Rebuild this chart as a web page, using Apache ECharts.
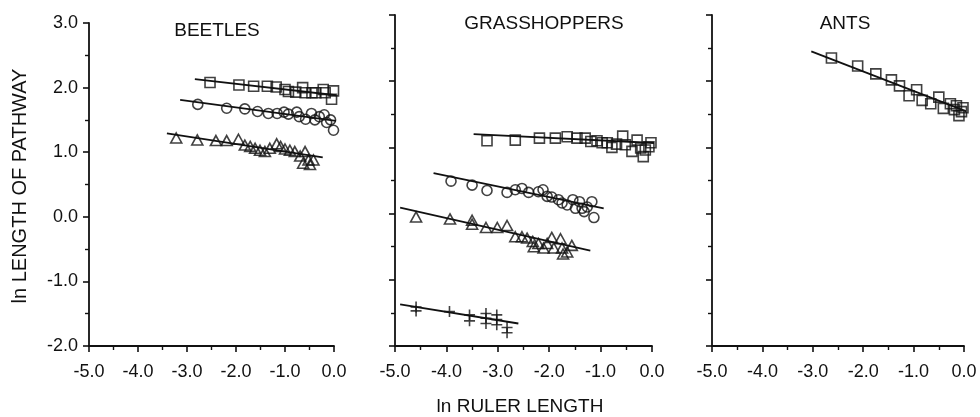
<!DOCTYPE html>
<html>
<head>
<meta charset="utf-8">
<script src="https://cdn.jsdelivr.net/npm/echarts@6/dist/echarts.min.js"></script>
<style>html,body{margin:0;padding:0;background:#fff}#c{width:980px;height:417px}</style>
</head>
<body>
<div id="c"></div>
<script>
// ---------- data ----------
const xTicks = [-5, -4, -3, -2, -1, 0];
const yTicks = [-2, -1, 0, 1, 2, 3];
const panelTitles = ['BEETLES', 'GRASSHOPPERS', 'ANTS'];

const beetleSq = [[-2.53,2.08],[-1.94,2.04],[-1.64,2.02],[-1.36,2.02],[-1.18,2.01],[-1.00,1.97],[-0.93,1.94],[-0.78,1.93],[-0.64,2.00],[-0.59,1.92],[-0.45,1.92],[-0.37,1.92],[-0.22,1.97],[-0.18,1.92],[-0.05,1.82],[-0.01,1.95]];
const beetleCi = [[-2.78,1.74],[-2.19,1.68],[-1.82,1.67],[-1.56,1.63],[-1.34,1.60],[-1.16,1.60],[-1.02,1.62],[-0.93,1.59],[-0.76,1.62],[-0.71,1.55],[-0.58,1.51],[-0.46,1.60],[-0.39,1.50],[-0.30,1.55],[-0.20,1.58],[-0.15,1.46],[-0.07,1.50],[-0.01,1.34]];
const beetleTri = [[-3.22,1.22],[-2.79,1.19],[-2.41,1.18],[-2.19,1.18],[-1.95,1.20],[-1.82,1.11],[-1.71,1.09],[-1.61,1.06],[-1.51,1.03],[-1.41,1.01],[-1.31,1.06],[-1.17,1.13],[-1.09,1.09],[-1.00,1.05],[-0.90,1.03],[-0.80,1.01],[-0.69,0.94],[-0.59,1.01],[-0.52,0.88],[-0.42,0.88],[-0.63,0.83],[-0.49,0.81]];
const beetleSqFit = [[-2.84,2.13],[0.18,1.87]];
const beetleCiFit = [[-3.14,1.81],[0.19,1.47]];
const beetleTriFit = [[-3.41,1.29],[-0.23,0.92]];

const grassSq = [[-3.21,1.10],[-2.66,1.11],[-2.19,1.14],[-1.88,1.14],[-1.65,1.16],[-1.46,1.14],[-1.30,1.14],[-1.19,1.09],[-1.07,1.10],[-0.97,1.07],[-0.87,1.07],[-0.78,1.00],[-0.69,1.05],[-0.57,1.17],[-0.52,1.04],[-0.39,0.94],[-0.29,1.11],[-0.22,0.99],[-0.17,0.86],[-0.13,0.96],[-0.06,1.01],[-0.02,1.07]];
const grassCi = [[-3.91,0.49],[-3.50,0.43],[-3.21,0.35],[-2.82,0.32],[-2.66,0.36],[-2.53,0.38],[-2.40,0.32],[-2.21,0.33],[-2.12,0.36],[-2.04,0.26],[-1.95,0.25],[-1.82,0.21],[-1.75,0.16],[-1.65,0.13],[-1.54,0.21],[-1.49,0.08],[-1.41,0.18],[-1.36,0.08],[-1.32,0.03],[-1.26,0.10],[-1.17,0.18],[-1.13,-0.06]];
const grassTri = [[-4.59,-0.05],[-3.93,-0.08],[-3.50,-0.10],[-3.50,-0.16],[-3.23,-0.21],[-3.01,-0.21],[-2.82,-0.18],[-2.66,-0.35],[-2.53,-0.35],[-2.43,-0.37],[-2.32,-0.42],[-2.30,-0.50],[-2.21,-0.45],[-2.11,-0.52],[-2.04,-0.45],[-1.95,-0.36],[-1.91,-0.52],[-1.78,-0.38],[-1.75,-0.52],[-1.73,-0.61],[-1.65,-0.58],[-1.56,-0.48]];
const grassPlus = [[-4.59,-1.41],[-4.59,-1.47],[-3.94,-1.48],[-3.55,-1.53],[-3.55,-1.62],[-3.23,-1.51],[-3.23,-1.58],[-3.23,-1.66],[-3.02,-1.53],[-3.02,-1.60],[-3.02,-1.68],[-2.82,-1.72],[-2.82,-1.80]];
const grassSqFit = [[-3.47,1.20],[0.20,1.06]];
const grassCiFit = [[-4.25,0.61],[-0.94,0.08]];
const grassTriFit = [[-4.90,0.09],[-1.20,-0.56]];
const grassPlusFit = [[-4.90,-1.37],[-2.60,-1.66]];

const antSq = [[-2.63,2.35],[-2.11,2.23],[-1.75,2.11],[-1.44,2.02],[-1.28,1.93],[-1.09,1.78],[-0.94,1.87],[-0.83,1.71],[-0.66,1.66],[-0.50,1.76],[-0.41,1.59],[-0.27,1.66],[-0.19,1.57],[-0.10,1.48],[-0.15,1.63],[-0.02,1.60],[-0.05,1.54]];
const antFit = [[-3.03,2.45],[0.23,1.49]];

// ---------- chart ----------
const INK = '#111';
const FONT = 'Liberation Sans, Arial, Helvetica, sans-serif';
const grids = [
  {left: 89, top: 23, width: 245, height: 323},
  {left: 395, top: 15, width: 257, height: 331},
  {left: 712, top: 15, width: 252, height: 331}
];

function xAxis(i) {
  return {
    gridIndex: i, type: 'value', min: xTicks[0], max: xTicks[xTicks.length - 1], interval: 1,
    axisLine: {show: true, onZero: false, lineStyle: {color: INK, width: 1.8}},
    axisTick: {show: true, inside: false, length: 6, lineStyle: {color: INK, width: 1.6}},
    minorTick: {show: true, splitNumber: 2, length: 4, lineStyle: {color: INK, width: 1.4}},
    splitLine: {show: false},
    axisLabel: {show: true, margin: 17, color: INK, fontFamily: FONT, fontSize: 18,
      formatter: v => v.toFixed(1)}
  };
}
function yAxis(i) {
  return {
    gridIndex: i, type: 'value', min: yTicks[0], max: yTicks[yTicks.length - 1], interval: 1,
    axisLine: {show: true, onZero: false, lineStyle: {color: INK, width: 1.8}},
    axisTick: {show: true, inside: false, length: 6, lineStyle: {color: INK, width: 1.6}},
    minorTick: {show: true, splitNumber: 2, length: 4, lineStyle: {color: INK, width: 1.4}},
    splitLine: {show: false},
    axisLabel: {show: i === 0, margin: 11, color: INK, fontFamily: FONT, fontSize: 18,
      formatter: v => v.toFixed(1)}
  };
}

const hollow = {color: 'rgba(0,0,0,0)', borderColor: INK, borderWidth: 1.6};
function pts(data, gi, symbol, size) {
  return {type: 'scatter', xAxisIndex: gi, yAxisIndex: gi, data: data, symbol: symbol,
    symbolSize: size, itemStyle: hollow, silent: true, z: 3};
}
function fit(data, gi) {
  return {type: 'line', xAxisIndex: gi, yAxisIndex: gi, data: data, showSymbol: false,
    symbol: 'none', clip: false, lineStyle: {color: INK, width: 1.8}, silent: true, z: 2};
}
const PLUS = 'path://M0,5L10,5M5,0L5,10';

const series = [
  pts(beetleSq, 0, 'rect', 10), fit(beetleSqFit, 0),
  pts(beetleCi, 0, 'circle', 10), fit(beetleCiFit, 0),
  pts(beetleTri, 0, 'triangle', [11, 10]), fit(beetleTriFit, 0),
  pts(grassSq, 1, 'rect', 10), fit(grassSqFit, 1),
  pts(grassCi, 1, 'circle', 10), fit(grassCiFit, 1),
  pts(grassTri, 1, 'triangle', [11, 10]), fit(grassTriFit, 1),
  pts(grassPlus, 1, PLUS, 11), fit(grassPlusFit, 1),
  pts(antSq, 2, 'rect', 10), fit(antFit, 2)
];

const titlePos = [[217, 31], [544, 24], [845, 24]];
const graphic = panelTitles.map((t, i) => ({
  type: 'text', x: titlePos[i][0], y: titlePos[i][1],
  style: {text: t, fill: INK, font: '19px ' + FONT, textAlign: 'center', textVerticalAlign: 'middle'}
}));
graphic.push({type: 'text', x: 520, y: 407,
  style: {text: 'ln RULER LENGTH', fill: INK, font: '19px ' + FONT, textAlign: 'center', textVerticalAlign: 'middle'}});
graphic.push({type: 'text', x: 20, y: 186, rotation: Math.PI / 2,
  style: {text: 'ln LENGTH OF PATHWAY', fill: INK, font: '20px ' + FONT, textAlign: 'center', textVerticalAlign: 'middle'}});

const chart = echarts.init(document.getElementById('c'), null, {renderer: 'canvas'});
chart.setOption({
  animation: false,
  backgroundColor: '#fff',
  grid: grids,
  xAxis: [0, 1, 2].map(xAxis),
  yAxis: [0, 1, 2].map(yAxis),
  series: series,
  graphic: graphic
});
</script>
</body>
</html>
